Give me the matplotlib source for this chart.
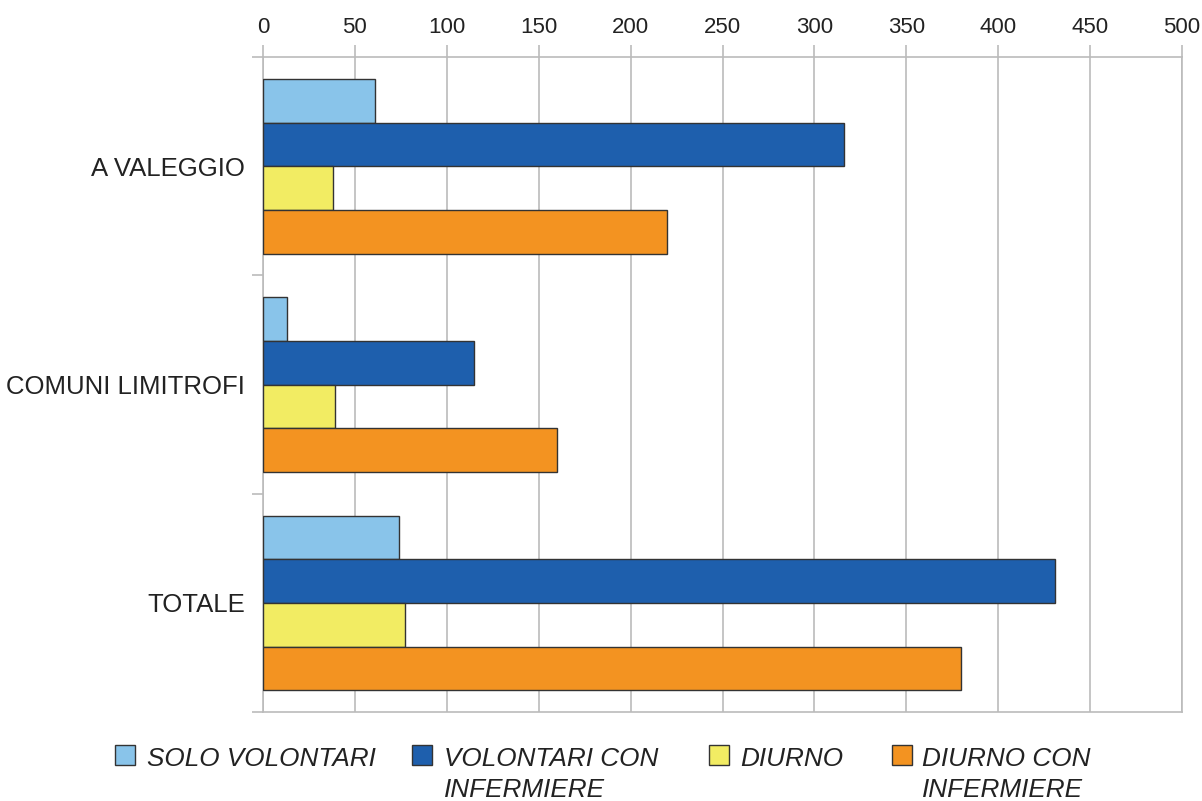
import numpy as np
import matplotlib.pyplot as plt
from matplotlib.patches import Rectangle

plt.rcParams['font.family'] = ['Liberation Sans', 'DejaVu Sans']

categories = ['A VALEGGIO', 'COMUNI LIMITROFI', 'TOTALE']
series = ['SOLO VOLONTARI', 'VOLONTARI CON\nINFERMIERE', 'DIURNO', 'DIURNO CON\nINFERMIERE']
solo_volontari = [61, 13, 74]
volontari_infermiere = [316, 115, 431]
diurno = [38, 39, 77]
diurno_infermiere = [220, 160, 380]
colors = ['#89C4EA', '#1E5FAD', '#F2EC63', '#F39321']

values = [solo_volontari, volontari_infermiere, diurno, diurno_infermiere]

W, H = 1202, 801
fig = plt.figure(figsize=(W / 100, H / 100), dpi=100)
ax = fig.add_axes([263 / W, 1 - 712 / H, (1182 - 263) / W, (712 - 57) / H])

y = np.arange(len(categories))
h = 0.2
for k, (vals, col) in enumerate(zip(values, colors)):
    ax.barh(y + (k - 1.5) * h, vals, height=h, color=col, edgecolor='#333333',
            linewidth=1.0, zorder=3)

grid_col = '#BBBBBB'
ax.set_xlim(0, 500)
ax.set_ylim(2.5, -0.5)
ax.set_xticks(np.arange(0, 501, 50))
ax.xaxis.tick_top()
ax.tick_params(axis='x', length=9, width=1.2, color=grid_col, labelsize=16,
               pad=5, labelcolor='#222222')
ax.grid(axis='x', color=grid_col, linewidth=1.2, zorder=0)

ax.set_yticks(y)
ax.set_yticklabels(categories, fontsize=18.5, color='#222222')
ax.tick_params(axis='y', which='major', length=0, pad=13)
ax.set_yticks([-0.5, 0.5, 1.5, 2.5], minor=True)
ax.tick_params(axis='y', which='minor', length=8, width=1.2, color=grid_col)

for s in ax.spines.values():
    s.set_color(grid_col)
    s.set_linewidth(1.2)

# legend below the plot, handles level with the first text line
handle_x = [115, 412, 709, 892]
text_x = [147, 444, 740, 922]
for name, col, hx, tx in zip(series, colors, handle_x, text_x):
    fig.patches.append(Rectangle((hx / W, 1 - 765 / H), 20 / W, 20 / H,
                                 transform=fig.transFigure, facecolor=col,
                                 edgecolor='#333333', linewidth=1.0))
    fig.text(tx / W, 1 - 747 / H, name, fontsize=18.8, style='italic',
             color='#222222', va='top', ha='left', linespacing=1.36)

fig.savefig('out.png', dpi=100)
